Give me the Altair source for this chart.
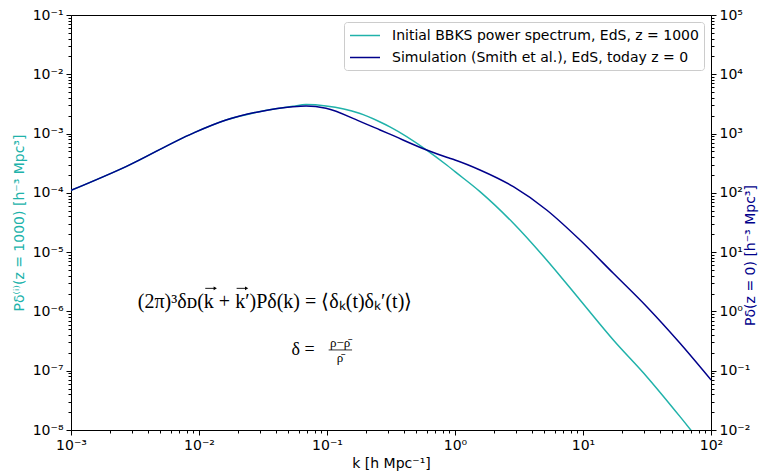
import altair as alt
import pandas as pd

# ---------------- data ----------------
k_values = [0.001, 0.00269, 0.00893, 0.01626, 0.02958, 0.054, 0.0686, 0.0982,
            0.179, 0.26, 0.31, 0.601, 0.861, 1.0, 1.567, 2.858, 5.20, 9.48,
            17.26, 31.5, 57.3, 100.0]
# initial BBKS spectrum, z = 1000 (left axis, h^-3 Mpc^3)
bbks_initial = [1.1e-4, 2.77e-4, 1.01e-3, 1.69e-3, 2.34e-3, 2.88e-3, 3.08e-3,
                2.92e-3, 2.20e-3, 1.57e-3, 1.30e-3, 5.28e-4, 2.95e-4, 2.28e-4,
                1.05e-4, 3.07e-5, 7.38e-6, 1.56e-6, 3.30e-7, 7.94e-8, 1.68e-8,
                3.7e-9]
# Smith et al. simulation, today z = 0 (right axis, h^-3 Mpc^3)
smith_today = [110, 277, 1010, 1690, 2340, 2840, 2920, 2670, 1620, 1150, 977,
               528, 398, 358, 243, 127, 51.4, 16.0, 4.40, 1.20, 0.290, 0.070]

series_names = ["Initial BBKS power spectrum, EdS, z = 1000",
                "Simulation (Smith et al.), EdS, today z = 0"]
series_colors = ["#20b2aa", "#00008b"]

x_title = "k [h Mpc⁻¹]"
left_title = "Pδ⁽ⁱ⁾(z = 1000)  [h⁻³ Mpc³]"
right_title = "Pδ(z = 0)  [h⁻³ Mpc³]"

# annotation texts (positions in data coordinates)
eq_texts = ["(2π)³δᴅ(k + k′)Pδ(k) = ⟨δₖ(t)δₖ′(t)⟩", "δ =", "ρ−ρ̄", "ρ̄"]
eq_k = [0.0393, 0.0649, 0.1265, 0.1265]
eq_P = [1.44e-6, 2.24e-7, 2.98e-7, 1.62e-7]
eq_size = [20, 18, 13, 13]
frac_k = [0.103]
frac_k2 = [0.157]
frac_P = [2.24e-7]
# vector arrows drawn over the two k's of the first equation
arrow_k_start = [0.01119, 0.01968]
arrow_k_end = [0.01340, 0.02355]
arrow_P = [2.45e-6, 2.45e-6]

# ---------------- tick helpers ----------------
x_ticks = [m * 10.0 ** e for e in range(-3, 2) for m in range(1, 10)] + [1e2]
yl_ticks = [m * 10.0 ** e for e in range(-8, -1) for m in range(1, 10)] + [1e-1]
yr_ticks = [m * 10.0 ** e for e in range(-2, 5) for m in range(1, 10)] + [1e5]

E = "round(log(datum.value)/LN10)"
MAJOR = f"abs(log(datum.value)/LN10 - {E}) < 0.001"
SUP = "['⁰','¹','²','³','⁴','⁵','⁶','⁷','⁸','⁹']"
LABEL = f"{MAJOR} ? '10' + ({E} < 0 ? '⁻' : '') + {SUP}[abs({E})] : ''"
TICKSIZE = {"condition": {"test": MAJOR, "value": 5}, "value": 3}

FONT = "DejaVu Sans"
SERIF = "Liberation Serif"


def log_axis(title, values, **kw):
    return alt.Axis(title=title, values=values, labelExpr=LABEL, tickSize=TICKSIZE,
                    grid=False, labelFlush=False, labelOverlap=False,
                    domainColor="black", tickColor="black", labelColor="black",
                    labelFont=FONT, labelFontSize=14, titleFont=FONT, titleFontSize=14,
                    titleFontWeight="normal", labelPadding=3, **kw)


X_AXIS = log_axis(x_title, x_ticks, titlePadding=4)
YL_AXIS = log_axis(left_title, yl_ticks, titleColor="#20b2aa", titlePadding=6)
YR_AXIS = log_axis(right_title, yr_ticks, orient="right", titleColor="#00008b",
                   titleAngle=270, titlePadding=8, titleAnchor="middle", titleY=240,
                   titleAlign="center")

xs = alt.Scale(type="log", domain=[1e-3, 1e2], nice=False)
yls = alt.Scale(type="log", domain=[1e-8, 1e-1], nice=False)
yrs = alt.Scale(type="log", domain=[1e-2, 1e5], nice=False)
cs = alt.Scale(domain=series_names, range=series_colors)

df_init = pd.DataFrame({"k": k_values, "P": bbks_initial, "series": series_names[0]})
df_sim = pd.DataFrame({"k": k_values, "P": smith_today, "series": series_names[1]})
df_eq = pd.DataFrame({"k": eq_k, "P": eq_P, "text": eq_texts, "size": eq_size})
df_frac = pd.DataFrame({"k": frac_k, "k2": frac_k2, "P": frac_P})
df_arrow = pd.DataFrame({"k": arrow_k_start, "k2": arrow_k_end, "P": arrow_P})

legend = alt.Legend(title=None, orient="top-right", offset=7, symbolType="M-1,0L3,0",
                    symbolStrokeWidth=1.5, symbolSize=225, labelFont=FONT,
                    labelFontSize=14, labelColor="black", labelOffset=26,
                    rowPadding=6, padding=5, strokeColor="#cccccc", fillColor="white",
                    cornerRadius=3, labelLimit=400)

init_line = alt.Chart(df_init).mark_line(strokeWidth=1.5, clip=True, interpolate="monotone").encode(
    x=alt.X("k:Q", scale=xs, axis=X_AXIS),
    y=alt.Y("P:Q", scale=yls, axis=YL_AXIS),
    color=alt.Color("series:N", scale=cs, legend=legend),
)

eq_text = alt.Chart(df_eq).mark_text(font=SERIF, align="center", baseline="middle",
                                     color="black").encode(
    x=alt.X("k:Q", scale=xs, axis=X_AXIS),
    y=alt.Y("P:Q", scale=yls, axis=YL_AXIS),
    text="text:N",
    size=alt.Size("size:Q", scale=None, legend=None),
)

arrow_shaft = alt.Chart(df_arrow).mark_rule(color="black", strokeWidth=0.9).encode(
    x=alt.X("k:Q", scale=xs, axis=X_AXIS),
    x2="k2:Q",
    y=alt.Y("P:Q", scale=yls, axis=YL_AXIS),
)

arrow_head = alt.Chart(df_arrow).mark_point(shape="triangle-right", filled=True,
                                            color="black", size=14, opacity=1).encode(
    x=alt.X("k2:Q", scale=xs, axis=X_AXIS),
    y=alt.Y("P:Q", scale=yls, axis=YL_AXIS),
)

frac_rule = alt.Chart(df_frac).mark_rule(color="black", strokeWidth=0.8).encode(
    x=alt.X("k:Q", scale=xs, axis=X_AXIS),
    x2="k2:Q",
    y=alt.Y("P:Q", scale=yls, axis=YL_AXIS),
)

left = alt.layer(init_line, eq_text, arrow_shaft, arrow_head, frac_rule)

sim_line = alt.Chart(df_sim).mark_line(strokeWidth=1.5, clip=True, interpolate="monotone").encode(
    x=alt.X("k:Q", scale=xs, axis=X_AXIS),
    y=alt.Y("P:Q", scale=yrs, axis=YR_AXIS),
    color=alt.Color("series:N", scale=cs, legend=legend),
)

chart = alt.layer(left, sim_line).resolve_scale(y="independent").properties(
    width=640, height=415,
    autosize=alt.AutoSizeParams(type="none"),
    padding={"left": 71, "top": 15, "right": 58, "bottom": 41},
).configure(font=FONT, view=alt.ViewConfig(stroke="black", strokeWidth=1))

chart.save("out.html", embed_options={"renderer": "svg", "actions": False})
